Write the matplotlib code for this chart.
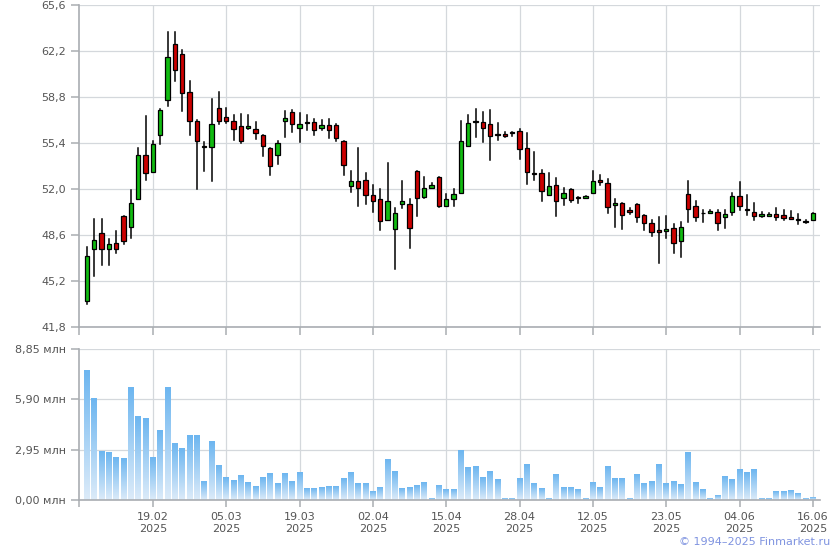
import numpy as np
import matplotlib
matplotlib.use("Agg")
import matplotlib.pyplot as plt
from matplotlib.patches import Rectangle

# one slot per trading session, tick every 10 sessions
tick_labels = ["19.02\n2025", "05.03\n2025", "19.03\n2025", "02.04\n2025", "15.04\n2025",
               "28.04\n2025", "12.05\n2025", "23.05\n2025", "04.06\n2025", "16.06\n2025"]
tick_index = [9, 19, 29, 39, 49, 59, 69, 79, 89, 99]

opens = [43.70, 47.56, 48.75, 47.56, 48.01, 50.00, 49.19, 51.26, 54.51, 53.26,
         55.99, 58.60, 62.74, 61.98, 59.17, 57.03, 55.20, 55.08, 57.99, 57.32,
         57.03, 56.66, 56.51, 56.43, 55.99, 55.03, 54.49, 57.00, 57.69, 56.48,
         56.90, 56.95, 56.48, 56.73, 56.73, 55.55, 52.22, 52.59, 52.66, 51.56,
         51.26, 49.71, 49.04, 50.89, 50.89, 53.33, 51.41, 52.07, 52.89, 50.74,
         51.26, 51.70, 55.18, 56.97, 56.98, 56.80, 56.02, 56.05, 56.19, 56.29,
         55.03, 53.20, 53.18, 51.53, 52.32, 51.31, 52.00, 51.38, 51.31, 51.70,
         52.65, 52.44, 50.82, 50.97, 50.45, 50.89, 50.08, 49.49, 49.00, 48.87,
         49.12, 48.13, 51.63, 50.74, 50.24, 50.22, 50.30, 49.93, 50.30, 51.48,
         50.50, 50.30, 50.00, 50.00, 50.15, 50.08, 49.93, 49.80, 49.65, 49.71]
closes = [47.07, 48.25, 47.56, 47.93, 47.56, 48.16, 50.96, 54.51, 53.18, 55.33,
          57.84, 61.76, 60.80, 59.10, 57.03, 55.52, 55.12, 56.80, 57.03, 57.03,
          56.43, 55.52, 56.66, 56.11, 55.15, 53.67, 55.40, 57.25, 56.78, 56.80,
          56.86, 56.36, 56.73, 56.36, 55.77, 53.77, 52.59, 52.07, 51.56, 51.11,
          49.63, 51.11, 50.22, 51.11, 49.12, 51.33, 52.07, 52.29, 50.74, 51.26,
          51.63, 55.55, 56.88, 56.93, 56.51, 55.92, 55.97, 55.95, 56.17, 54.96,
          53.26, 53.14, 51.83, 52.25, 51.09, 51.70, 51.16, 51.34, 51.48, 52.59,
          52.55, 50.67, 50.97, 50.08, 50.30, 49.93, 49.49, 48.82, 48.82, 49.07,
          47.98, 49.19, 50.52, 49.93, 50.20, 50.37, 49.49, 50.15, 51.48, 50.74,
          50.45, 50.00, 50.15, 50.15, 49.93, 49.86, 49.78, 49.72, 49.55, 50.22]
highs = [47.71, 49.78, 49.78, 48.30, 48.92, 50.00, 51.95, 55.03, 57.40, 55.52,
         57.94, 63.60, 63.60, 62.30, 59.98, 57.08, 55.45, 58.65, 59.17, 57.99,
         57.47, 57.54, 57.47, 56.95, 55.99, 55.03, 55.52, 57.79, 57.86, 57.62,
         57.47, 57.20, 57.10, 57.20, 56.80, 55.55, 53.33, 55.05, 53.21, 52.29,
         52.00, 53.92, 50.59, 52.59, 51.26, 53.33, 52.89, 52.41, 52.89, 51.63,
         52.00, 57.05, 57.49, 57.94, 57.69, 57.86, 56.88, 56.19, 56.19, 56.43,
         56.14, 54.73, 53.43, 53.18, 52.81, 52.07, 52.00, 51.38, 51.48, 53.33,
         53.03, 52.76, 51.26, 50.97, 50.57, 50.89, 50.08, 49.68, 49.93, 49.98,
         49.41, 49.56, 52.59, 51.11, 50.45, 50.45, 50.45, 50.45, 51.70, 52.52,
         51.56, 50.96, 50.30, 50.22, 50.59, 50.45, 50.37, 50.15, 49.68, 50.22]
lows = [43.52, 45.54, 46.41, 46.36, 47.27, 47.93, 48.35, 51.26, 52.66, 53.26,
        55.30, 58.11, 59.98, 57.76, 55.97, 52.00, 53.30, 52.57, 56.80, 56.88,
        55.62, 55.40, 56.43, 55.67, 54.44, 53.01, 53.82, 55.82, 56.19, 55.50,
        56.38, 55.97, 56.36, 55.74, 55.52, 53.01, 51.75, 50.72, 50.87, 50.30,
        48.94, 49.71, 46.09, 50.57, 47.64, 49.98, 51.33, 52.07, 50.67, 50.74,
        50.72, 51.70, 55.18, 55.82, 55.45, 54.12, 55.62, 55.87, 55.94, 54.20,
        52.37, 52.66, 51.09, 51.53, 49.98, 50.79, 51.01, 50.96, 51.31, 51.70,
        52.27, 50.20, 49.17, 49.04, 50.13, 49.53, 48.97, 48.53, 46.53, 48.35,
        47.24, 46.95, 49.56, 49.61, 49.53, 50.22, 48.97, 49.09, 50.08, 50.42,
        50.05, 49.71, 49.93, 50.00, 49.71, 49.71, 49.78, 49.41, 49.49, 49.71]
volumes = [7.61, 5.96, 2.87, 2.81, 2.47, 2.41, 6.60, 4.91, 4.79, 2.52,
           4.10, 6.60, 3.34, 2.99, 3.80, 3.80, 1.07, 3.40, 2.00, 1.30,
           1.13, 1.42, 1.01, 0.78, 1.30, 1.53, 0.95, 1.53, 1.07, 1.59,
           0.66, 0.66, 0.72, 0.78, 0.78, 1.24, 1.59, 0.95, 0.95, 0.49,
           0.72, 2.35, 1.65, 0.66, 0.72, 0.83, 1.01, 0.08, 0.83, 0.60,
           0.60, 2.93, 1.88, 1.94, 1.30, 1.65, 1.18, 0.08, 0.08, 1.24,
           2.06, 0.95, 0.66, 0.08, 1.48, 0.72, 0.72, 0.60, 0.08, 1.01,
           0.72, 1.94, 1.24, 1.24, 0.08, 1.48, 0.95, 1.07, 2.06, 0.95,
           1.07, 0.89, 2.81, 1.01, 0.60, 0.08, 0.25, 1.36, 1.18, 1.77,
           1.59, 1.77, 0.08, 0.08, 0.49, 0.49, 0.54, 0.37, 0.08, 0.14]

price_ticks = [41.8, 45.2, 48.6, 52.0, 55.4, 58.8, 62.2, 65.6]
vol_ticks = [0.0, 2.95, 5.90, 8.85]

GRID = "#d4d8dc"
SPINE = "#a9adb2"
TEXT = "#555555"
XLIM = (-1.08, 99.97)

fig = plt.figure(figsize=(8.4, 5.5), dpi=100)
ax = fig.add_axes([79 / 840, 1 - 327 / 550, 741 / 840, 322 / 550])
axv = fig.add_axes([79 / 840, 1 - 500 / 550, 741 / 840, 151 / 550])


def style_axis(a):
    for s in ["top", "right"]:
        a.spines[s].set_visible(False)
    for s in ["left", "bottom"]:
        a.spines[s].set_color(SPINE)
        a.spines[s].set_linewidth(1.2)
    a.grid(True, color=GRID, linewidth=0.9)
    a.set_axisbelow(True)
    a.set_xticks(tick_index)
    a.set_xticks([XLIM[0] + 0.05], minor=True)
    a.set_xlim(*XLIM)
    a.tick_params(axis="both", which="both", colors=SPINE, labelcolor=TEXT,
                  labelsize=8, length=6, width=1.1)


# candles
x = np.arange(len(opens))
for i in x:
    o, c, h, l = opens[i], closes[i], highs[i], lows[i]
    col = "#11bb11" if c >= o else "#cc0000"
    ax.plot([i, i], [l, h], color="black", linewidth=1.1, zorder=2)
    bottom = min(o, c)
    height = max(abs(c - o), 0.06)
    ax.add_patch(Rectangle((i - 0.3, bottom), 0.6, height, facecolor=col,
                           edgecolor="black", linewidth=0.9, zorder=3))

style_axis(ax)
ax.set_ylim(41.8, 65.6)
ax.set_yticks(price_ticks)
ax.set_yticklabels([f"{t:.1f}".replace(".", ",") for t in price_ticks])
ax.tick_params(axis="x", labelbottom=False)

# volume bars with vertical gradient
grad = np.linspace(0, 1, 64).reshape(-1, 1)
cmap = matplotlib.colors.LinearSegmentedColormap.from_list("vol", ["#dcebf9", "#6db6f0"])
for i in x:
    axv.imshow(grad, extent=[i - 0.4, i + 0.4, 0, volumes[i]], origin="lower",
               aspect="auto", cmap=cmap, zorder=2, interpolation="bilinear")

style_axis(axv)
axv.set_xlim(*XLIM)
axv.set_ylim(0, 8.85)
axv.set_yticks(vol_ticks)
axv.set_yticklabels([f"{t:.2f}".replace(".", ",") + " млн" for t in vol_ticks])
axv.set_xticklabels(tick_labels, linespacing=1.25)
axv.tick_params(axis="x", which="both", length=5)

fig.text(830 / 840, 1 - 542 / 550, "© 1994–2025 Finmarket.ru", color="#7f93e0",
         fontsize=8, ha="right", va="center")

fig.savefig("out.png", dpi=100)
